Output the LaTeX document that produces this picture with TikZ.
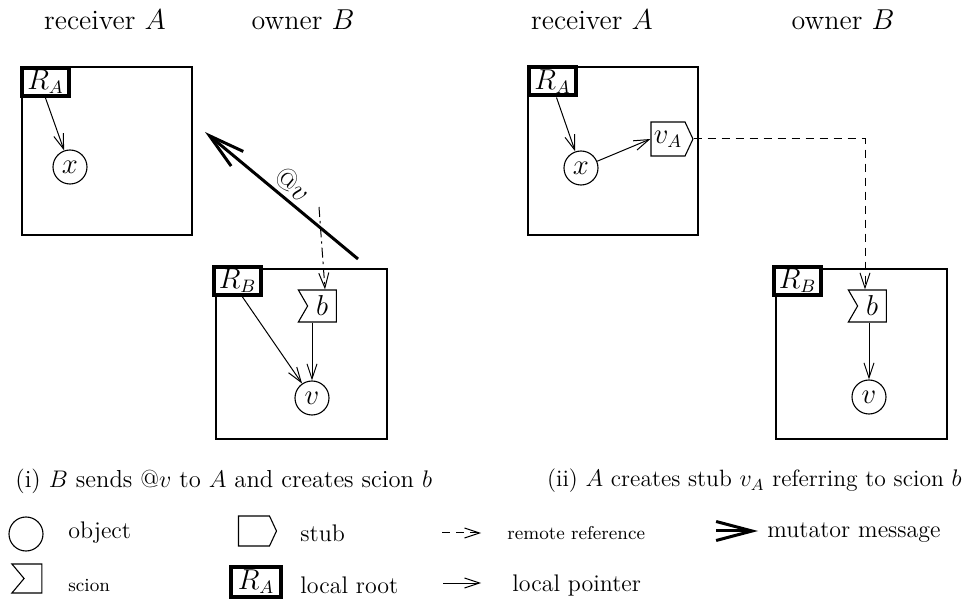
\documentclass[tikz,border=0pt]{standalone}
\usepackage{fontspec}
\usetikzlibrary{arrows.meta,shapes.symbols,calc}
\begin{document}
\begin{tikzpicture}[x=0.5pt,y=-0.5pt,
  box/.style={draw,line width=0.55pt,rectangle,inner sep=0pt},
  rootbox/.style={draw,line width=2pt,fill=white,rectangle,inner sep=0pt,
    minimum width=23.5pt,minimum height=14pt,font=\fontsize{13.5}{15}\selectfont},
  obj/.style={draw,line width=0.55pt,circle,inner sep=0pt,minimum size=17pt,
    font=\fontsize{13.5}{15}\selectfont},
  scionn/.style={draw,line width=0.55pt,signal,signal from=west,signal to=nowhere,
    signal pointer angle=120,inner sep=0pt,minimum width=19pt,minimum height=16pt,
    font=\fontsize{13.5}{15}\selectfont},
  stubn/.style={draw,line width=0.55pt,signal,signal to=east,signal from=nowhere,
    signal pointer angle=130,inner sep=0pt,minimum width=21pt,minimum height=17pt,
    font=\fontsize{13.5}{15}\selectfont},
  lptr/.style={-{Straight Barb[length=7.5pt,width=5pt]},line width=0.5pt},
  rrefl/.style={lptr,dash pattern=on 5pt off 2pt on 1.2pt off 2pt},
  rref/.style={lptr,dash pattern=on 4pt off 3pt},
  mutmsg/.style={-{Straight Barb[length=18pt,width=9.5pt]},line width=1.5pt},
  toplbl/.style={font=\fontsize{14}{16}\selectfont},
  captn/.style={inner sep=0pt,font=\fontsize{12.3}{14}\selectfont},
  leg/.style={anchor=west,inner sep=0pt,font=\fontsize{12}{14}\selectfont},
  legt/.style={anchor=west,inner sep=0pt,font=\fontsize{9.3}{11}\selectfont},
]
\useasboundingbox (0,0) rectangle (966,599);

% ---------- top labels
\node[toplbl] (ta1) at (105,20) {receiver $A$};
\node[toplbl] (tb1) at (303,20) {owner $B$};
\node[toplbl] (ta2) at (592,20) {receiver $A$};
\node[toplbl] (tb2) at (843,20) {owner $B$};

% ---------- panel (i)
\node[box,minimum width=85pt,minimum height=84pt] (boxA1) at (107,151) {};
\node[rootbox] (RA1) at (45.5,82) {$R_A$};
\node[obj] (x1) at (70,167) {$x$};
\node[box,minimum width=85.5pt,minimum height=85pt] (boxB1) at (301.5,354) {};
\node[rootbox] (RB1) at (237.5,281) {$R_B$};
\node[scionn] (b1) at (322,306) {$b$};
\node[obj] (v1) at (312,398) {$v$};

\draw[lptr] (RA1.south) -- (x1);
\draw[lptr] ($(RB1.south)+(5,0)$) -- (v1);
\draw[lptr] (v1 |- b1.south) -- (v1.north);

\coordinate (m1s) at (358,259);
\coordinate (m1e) at (205,132);
\draw[mutmsg] (m1s) -- (m1e);
\node[rotate=-39.7,inner sep=0pt,font=\fontsize{15}{17}\selectfont] (atv) at (293,184) {@$v$};
\coordinate (rr1) at (319,207);
\draw[rrefl] (rr1) -- ($(b1.north)+(3,0)$);

% ---------- panel (ii)
\node[box,minimum width=85pt,minimum height=84pt] (boxA2) at (613,151) {};
\node[rootbox] (RA2) at (552.5,81.5) {$R_A$};
\node[obj] (x2) at (581,168) {$x$};
\node[stubn] (vA) at (668,139) {$v_A$};
\node[box,minimum width=85.5pt,minimum height=85pt] (boxB2) at (861.5,354) {};
\node[rootbox] (RB2) at (797.5,281) {$R_B$};
\node[scionn] (b2) at (872,306) {$b$};
\node[obj] (v2) at (869,397) {$v$};

\draw[lptr] ($(RA2.south)+(4,0)$) -- (x2);
\draw[lptr] (x2) -- (vA.west);
\draw[lptr] (v2 |- b2.south) -- (v2.north);
\draw[rref] (vA.east) -| ($(b2.north)+(-7,0)$);

% ---------- captions
\node[captn,anchor=west] (c1) at (15,481) {(i) $B$ sends @$v$ to $A$ and creates scion $b$};
\node[captn,anchor=east,font=\fontsize{11.8}{14}\selectfont] (c2) at (962,481) {(ii) $A$ creates stub $v_A$ referring to scion $b$};

% ---------- legend
\node[obj] (lobj) at (26,534) {};
\node[leg] (tobj) at (68,533) {object};
\node[stubn,minimum width=19pt,minimum height=15pt] (lstub) at (254,531) {};
\node[leg] (tstub) at (300,533) {stub};
\coordinate (lr1) at (442,533);
\coordinate (lr2) at (481,533);
\draw[rref] (lr1) -- (lr2);
\node[legt] (trr) at (507,533) {remote reference};
\coordinate (lm1) at (716,531);
\coordinate (lm2) at (758,531);
\draw[mutmsg] (lm1) -- (lm2);
\node[leg] (tmm) at (767,533) {mutator message};

\node[scionn,minimum width=15pt,minimum height=14.5pt,signal pointer angle=100] (lscion) at (33,578.5) {};
\node[legt] (tscion) at (68,585) {scion};
\node[rootbox,minimum width=25pt,minimum height=15pt] (lroot) at (256,582) {$R_A$};
\node[leg] (troot) at (300,585) {local root};
\coordinate (lp1) at (443,583);
\coordinate (lp2) at (481,583);
\draw[lptr] (lp1) -- (lp2);
\node[leg] (tlp) at (512,585) {local pointer};
\end{tikzpicture}
\end{document}
